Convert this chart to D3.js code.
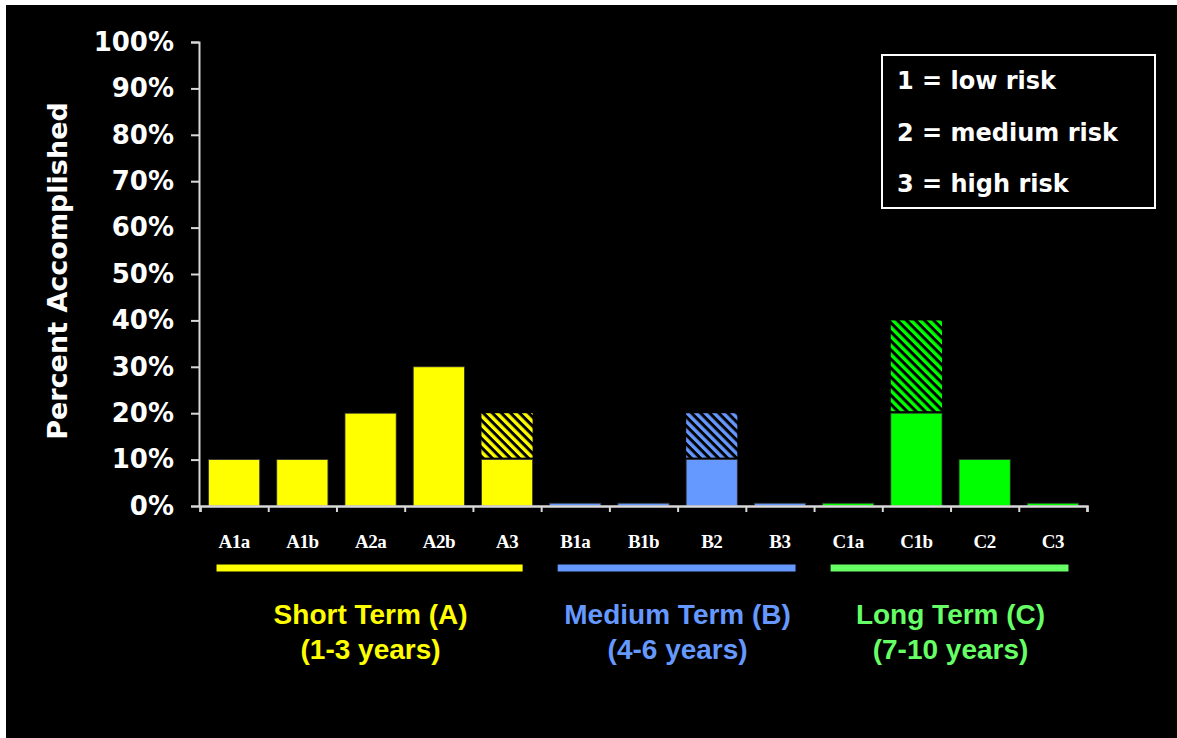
<!DOCTYPE html>
<html>
<head>
<meta charset="utf-8">
<script src="https://cdn.jsdelivr.net/npm/d3@7"></script>
<style>
  html, body { margin: 0; padding: 0; background: #fff; }
  svg { display: block; }
</style>
</head>
<body>
<svg id="chart" width="1177" height="738"></svg>
<script>
// ---- data ----
const categories = ["A1a","A1b","A2a","A2b","A3","B1a","B1b","B2","B3","C1a","C1b","C2","C3"];
const categoryGroup = ["A","A","A","A","A","B","B","B","B","C","C","C","C"];
const accomplished = [10, 10, 20, 30, 10, 0.6, 0.6, 10, 0.6, 0.6, 20, 10, 0.6];
const inProgress   = [0, 0, 0, 0, 10, 0, 0, 10, 0, 0, 20, 0, 0];
const groupKeys = ["A","B","C"];
const groupNames = ["Short Term (A)", "Medium Term (B)", "Long Term (C)"];
const groupYears = ["(1-3 years)", "(4-6 years)", "(7-10 years)"];
const yTicks = [0,10,20,30,40,50,60,70,80,90,100];
const legendItems = ["1 = low risk", "2 = medium risk", "3 = high risk"];
const yTitle = "Percent Accomplished";

// ---- styles ----
const barColor = {A: "#ffff00", B: "#6699ff", C: "#00ff00"};
const labelColor = {A: "#ffff00", B: "#6699ff", C: "#66ff66"};

const svg = d3.select("#chart");
svg.append("rect").attr("x", 6).attr("y", 5).attr("width", 1171).attr("height", 733).attr("fill", "#000");

const defs = svg.append("defs");
groupKeys.forEach(k => {
  const p = defs.append("pattern")
    .attr("id", "hatch" + k)
    .attr("patternUnits", "userSpaceOnUse")
    .attr("width", 6.4).attr("height", 6.4)
    .attr("patternTransform", "rotate(-45)");
  p.append("rect").attr("width", 6.4).attr("height", 6.4).attr("fill", "#000");
  p.append("rect").attr("width", 3.4).attr("height", 6.4).attr("fill", barColor[k]);
});

const y = d3.scaleLinear().domain([0, 100]).range([506, 42]);
const x = d3.scaleBand().domain(categories).range([200, 1087]).paddingInner(0.25).paddingOuter(0.125);
const xEdge = d3.scaleLinear().domain([0, categories.length]).range([200, 1087]);

// y axis
const yAxis = svg.append("g").attr("transform", "translate(199,0)")
  .call(d3.axisLeft(y).tickValues(yTicks).tickSize(8).tickPadding(17).tickFormat(d => d + "%"));
yAxis.select(".domain").attr("stroke", "#d8d8d8").attr("stroke-width", 2);
yAxis.selectAll(".tick line").attr("stroke", "#d8d8d8").attr("stroke-width", 2);
yAxis.selectAll(".tick text").attr("fill", "#fff")
  .style("font-family", "DejaVu Sans").style("font-weight", "bold").style("font-size", "26px");

// bars
const data = categories.map((c, i) => ({c, g: categoryGroup[i], a: accomplished[i], p: inProgress[i]}));
const bars = svg.append("g");
bars.selectAll("rect.solid").data(data).join("rect")
  .attr("class", "solid")
  .attr("x", d => x(d.c)).attr("width", x.bandwidth())
  .attr("y", d => y(d.a)).attr("height", d => y(0) - y(d.a))
  .attr("fill", d => barColor[d.g])
  .attr("stroke", "#333").attr("stroke-width", 0.8);
bars.selectAll("rect.hatch").data(data.filter(d => d.p > 0)).join("rect")
  .attr("class", "hatch")
  .attr("x", d => x(d.c)).attr("width", x.bandwidth())
  .attr("y", d => y(d.a + d.p)).attr("height", d => y(d.a) - y(d.a + d.p) - 2)
  .attr("fill", d => "url(#hatch" + d.g + ")");

// x axis (ticks at category boundaries)
const xAxis = svg.append("g").attr("transform", "translate(0,506)")
  .call(d3.axisBottom(xEdge).tickValues(d3.range(categories.length + 1)).tickSize(6).tickFormat(""));
xAxis.select(".domain").attr("stroke", "#d8d8d8").attr("stroke-width", 2.5);
xAxis.selectAll(".tick line").attr("stroke", "#d8d8d8").attr("stroke-width", 2);

svg.append("g").selectAll("text").data(categories).join("text")
  .attr("x", d => x(d) + x.bandwidth() / 2).attr("y", 548)
  .attr("text-anchor", "middle")
  .attr("fill", "#fff")
  .style("font-family", "Liberation Serif").style("font-weight", "bold").style("font-size", "19px")
  .style("letter-spacing", "-0.5px")
  .text(d => d);

// y title
svg.append("text")
  .attr("transform", "translate(67,271) rotate(-90)")
  .attr("text-anchor", "middle").attr("fill", "#fff")
  .style("font-family", "DejaVu Sans").style("font-weight", "bold").style("font-size", "27px")
  .text(yTitle);

// group lines & labels
groupKeys.forEach((k, gi) => {
  const cats = categories.filter((c, i) => categoryGroup[i] === k);
  const x0 = x(cats[0]) + 8;
  const x1 = x(cats[cats.length - 1]) + x.bandwidth() - 10;
  const cx = (x(cats[0]) + x(cats[cats.length - 1]) + x.bandwidth()) / 2;
  svg.append("line").attr("x1", x0).attr("x2", x1).attr("y1", 568).attr("y2", 568)
    .attr("stroke", labelColor[k]).attr("stroke-width", 7);
  const t = svg.append("text").attr("text-anchor", "middle").attr("fill", labelColor[k])
    .style("font-family", "Liberation Sans").style("font-weight", "bold").style("font-size", "28px");
  t.append("tspan").attr("x", cx).attr("y", 624).text(groupNames[gi]);
  t.append("tspan").attr("x", cx).attr("y", 659).text(groupYears[gi]);
});

// legend
const lg = svg.append("g");
lg.append("rect").attr("x", 882).attr("y", 55).attr("width", 273).attr("height", 153)
  .attr("fill", "none").attr("stroke", "#fff").attr("stroke-width", 2);
lg.selectAll("text").data(legendItems).join("text")
  .attr("x", 897).attr("y", (d, i) => 89 + i * 51.5)
  .attr("fill", "#fff")
  .style("font-family", "DejaVu Sans").style("font-weight", "bold").style("font-size", "24px")
  .text(d => d);
</script>
</body>
</html>
